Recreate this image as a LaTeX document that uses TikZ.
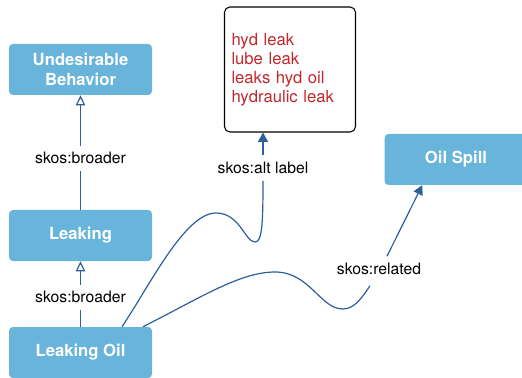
\documentclass[tikz,border=0pt]{standalone}
\usepackage{fontspec}
\setmainfont{TeX Gyre Heros}
\usetikzlibrary{arrows.meta,calc}
\definecolor{conceptblue}{HTML}{68B4DB}
\definecolor{linkblue}{HTML}{2B5F9D}
\definecolor{altred}{HTML}{C1272D}
\tikzset{
  concept/.style={fill=conceptblue, rounded corners=3pt, minimum width=107.25pt,
    minimum height=38.25pt, align=center, text=white,
    font=\fontsize{12.5}{15.4}\selectfont\bfseries},
  altbox/.style={draw, line width=0.8pt, rounded corners=4pt, text=altred,
    text width=87.75pt, inner sep=5.25pt, minimum height=93.75pt, align=left,
    font=\fontsize{12.5}{14.3}\selectfont},
  link/.style={draw=linkblue, line width=0.9pt},
  linklabel/.style={fill=white, inner sep=5pt, font=\fontsize{11.8}{14}\selectfont},
  broader/.style={link, -{Triangle[open,length=7.5pt,width=7pt]}},
  pointer/.style={link, -{Triangle[length=7pt,width=7.5pt]}}
}
\begin{document}
\begin{tikzpicture}[x=0.75pt,y=-0.75pt]
\useasboundingbox (0,0) rectangle (522,378);
\node [concept] (behavior) at (80.5,69.5) {Undesirable\\Behavior};
\node [concept] (leaking) at (80.5,235.5) {Leaking};
\node [concept] (leakoil) at (80.5,352.5) {Leaking Oil};
\node [concept] (spill) at (456,159.5) {Oil Spill};
\node [altbox] (altlabels) at (290,69.5) {hyd leak\\lube leak\\leaks hyd oil\\hydraulic leak};
\draw [broader] (leaking) -- node [linklabel, pos=0.45] {skos:broader} (behavior);
\draw [broader] (leakoil) -- node [linklabel, pos=0.45] {skos:broader} (leaking);
% alternative labels
\node [linklabel] (altlink) at (263,168) {skos:alt label};
\draw [link] ($(leakoil.north)+(41.5,0)$) .. controls (150,285) and (185,213) .. (216,213)
  .. controls (240,213) and (245,242) .. (255,242)
  .. controls (262,242) and (263,225) .. (altlink.south);
\draw [pointer] (altlink.north) -- (altlink.north |- altlabels.south);
% related concept
\node [linklabel] (rellink) at (379,269) {skos:related};
\draw [link] ($(leakoil.north)+(62.5,0)$) .. controls (200,298) and (240,272) .. (275,272)
  .. controls (310,272) and (320,309) .. (343,309)
  .. controls (355,309) and (363,296) .. ($(rellink.south)+(-9,4)$);
\draw [pointer] ($(rellink.north)+(8,0)$) -- ($(spill.south west)+(38,0)$);
\end{tikzpicture}
\end{document}
